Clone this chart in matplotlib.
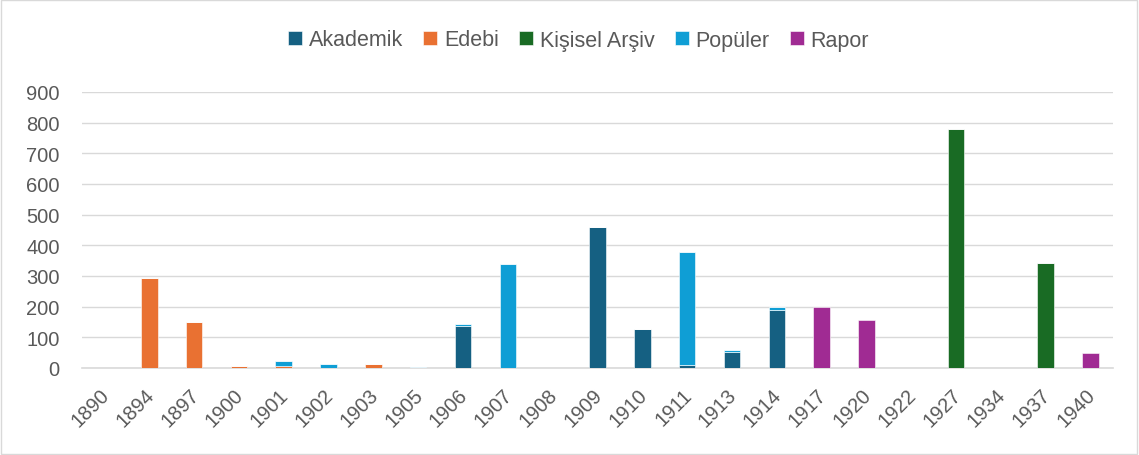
import numpy as np
import matplotlib.pyplot as plt
import matplotlib.transforms as mtransforms
from matplotlib.patches import Rectangle

plt.rcParams['font.family'] = ['Liberation Sans', 'DejaVu Sans']

years = ['1890', '1894', '1897', '1900', '1901', '1902', '1903', '1905', '1906', '1907',
         '1908', '1909', '1910', '1911', '1913', '1914', '1917', '1920', '1922', '1927',
         '1934', '1937', '1940']

akademik = [0, 0, 0, 0, 0, 0, 0, 0, 137, 0, 0, 460, 126, 10, 52, 190, 0, 0, 0, 0, 0, 0, 0]
edebi = [0, 293, 150, 5, 6, 0, 14, 0, 0, 0, 0, 0, 0, 0, 0, 0, 0, 0, 0, 0, 0, 0, 0]
kisisel_arsiv = [0, 0, 0, 0, 0, 0, 0, 0, 0, 0, 0, 0, 0, 0, 0, 0, 0, 0, 0, 780, 0, 342, 0]
populer = [0, 0, 0, 0, 18, 12, 0, 4, 8, 340, 0, 0, 0, 369, 6, 9, 0, 0, 0, 0, 0, 0, 0]
rapor = [0, 0, 0, 0, 0, 0, 0, 0, 0, 0, 0, 0, 0, 0, 0, 0, 200, 156, 0, 0, 0, 0, 48]

series = [
    ('Akademik', akademik, '#156082'),
    ('Edebi', edebi, '#E97132'),
    ('Kişisel Arşiv', kisisel_arsiv, '#196B24'),
    ('Popüler', populer, '#0F9ED5'),
    ('Rapor', rapor, '#A02B93'),
]

fig = plt.figure(figsize=(11.39, 4.56), dpi=100)
ax = fig.add_axes([82 / 1139, 1 - 369 / 456, 1031 / 1139, 276 / 456])

x = np.arange(len(years))
bottom = np.zeros(len(years))
for name, vals, color in series:
    vals = np.array(vals, dtype=float)
    ax.bar(x, vals, 0.37, bottom=bottom, color=color, label=name,
           edgecolor='white', linewidth=0.4, zorder=3)
    bottom += vals

ax.set_xlim(-0.5, len(years) - 0.5)
ax.set_ylim(0, 900)
ax.set_yticks(range(0, 901, 100))
ax.yaxis.grid(True, color='#D9D9D9', linewidth=1, zorder=0)
ax.set_axisbelow(True)
for s in ['top', 'right', 'left']:
    ax.spines[s].set_visible(False)
ax.spines['bottom'].set_color('#D9D9D9')
ax.spines['bottom'].set_linewidth(1.2)
ax.tick_params(axis='both', length=0, labelsize=14.5, colors='#595959')
ax.tick_params(axis='y', pad=16)
ax.tick_params(axis='x', pad=12)
ax.set_xticks(x)
ax.set_xticklabels(years, rotation=45, ha='right', rotation_mode='anchor')
shift = mtransforms.ScaledTranslation(-5 / 100, 0, fig.dpi_scale_trans)
for lab in ax.get_xticklabels():
    lab.set_transform(lab.get_transform() + shift)

leg = fig.legend(loc='center', bbox_to_anchor=(0.508, 1 - 41 / 456), ncol=5,
                 frameon=False, fontsize=15.5,
                 handlelength=0.65, handleheight=0.65,
                 handletextpad=0.3, columnspacing=0.95)
for t in leg.get_texts():
    t.set_color('#595959')

fig.patches.append(Rectangle((0.001, 0.002), 0.997, 0.995, transform=fig.transFigure,
                             fill=False, edgecolor='#D9D9D9', linewidth=1))

fig.savefig('out.png', dpi=100)
